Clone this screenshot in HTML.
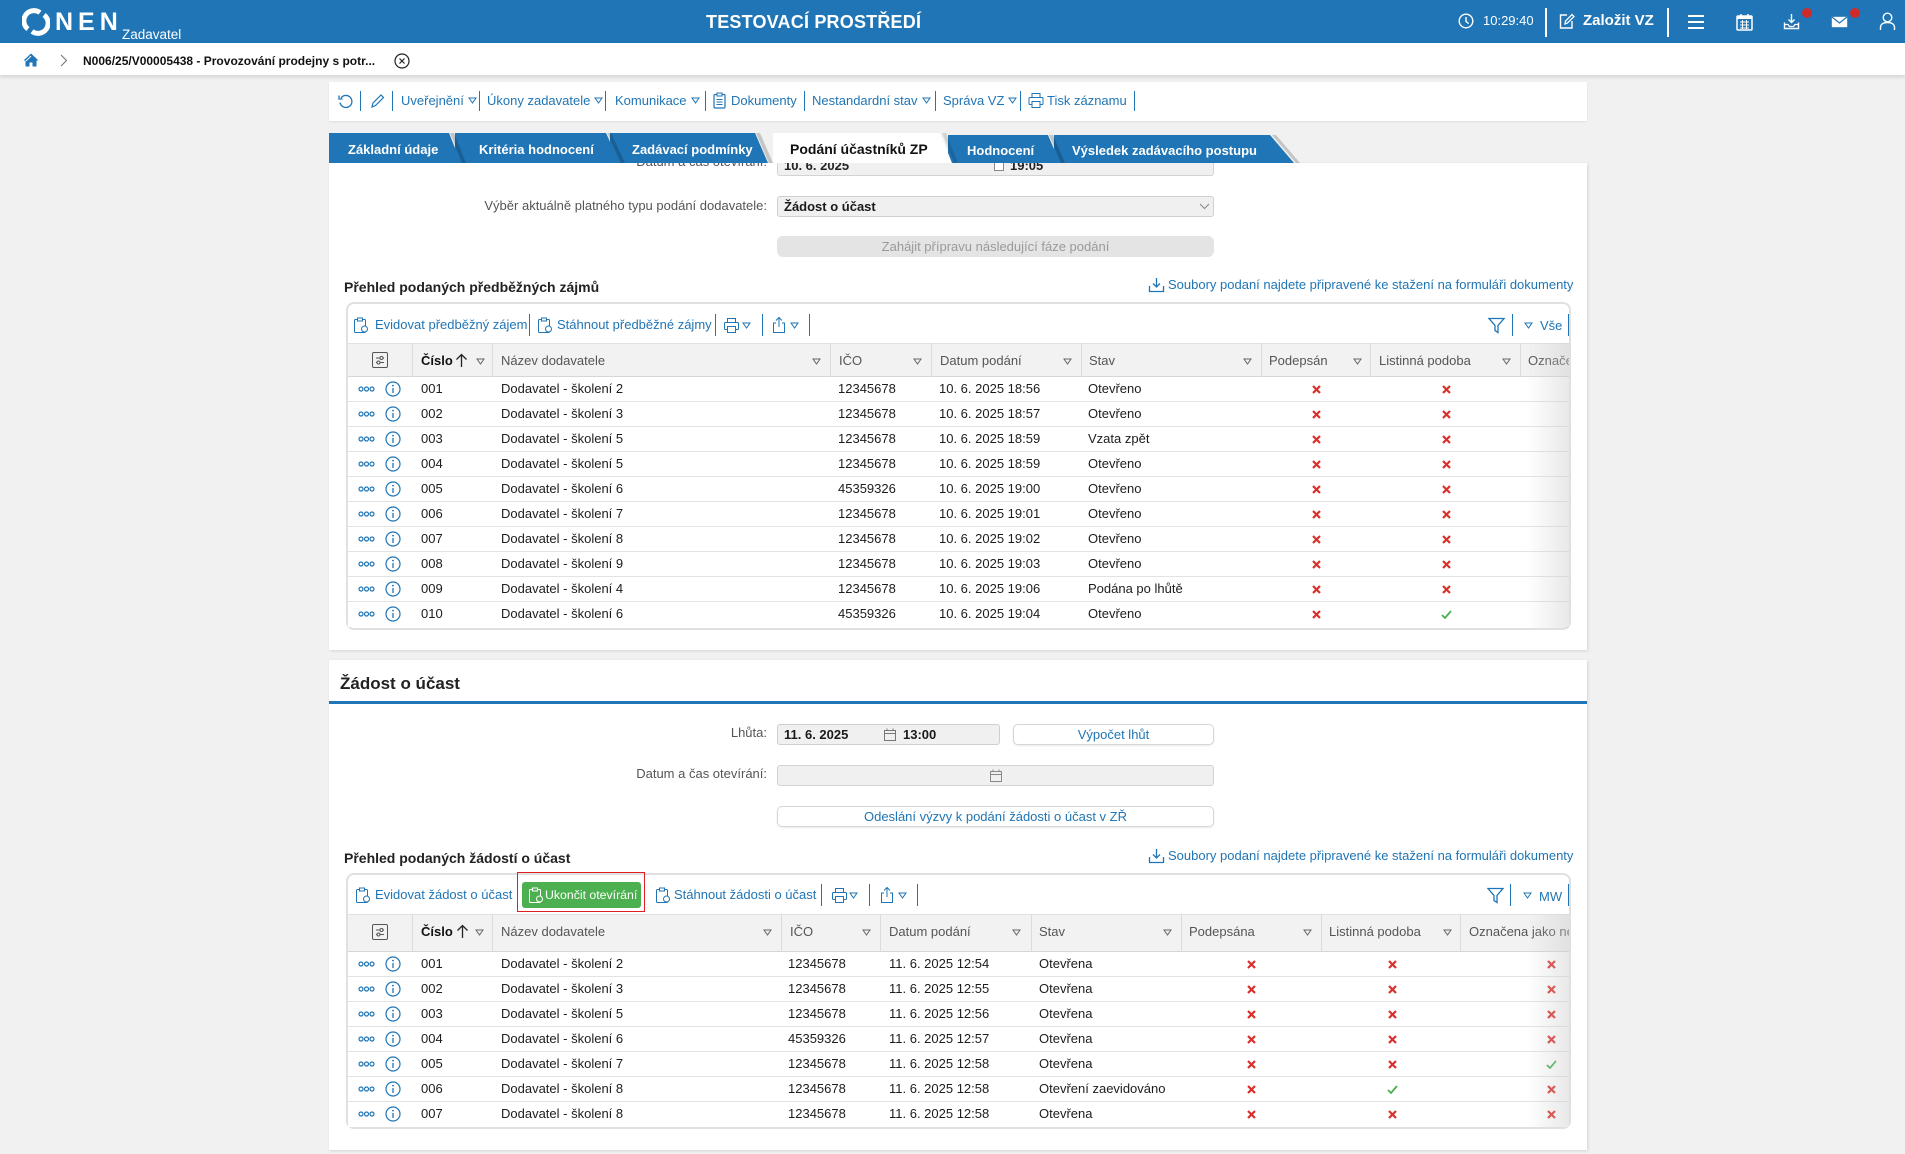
<!DOCTYPE html>
<html><head><meta charset="utf-8">
<style>
*{box-sizing:border-box}
body{margin:0;width:1905px;height:1154px;background:#f1f1f1;position:relative;overflow:hidden;font-family:"Liberation Sans",Arial,sans-serif;font-size:13px;color:#1c1c1c}
.a{position:absolute}
.t{position:absolute;white-space:nowrap;line-height:16px;font-size:13px}
.b{color:#1f75b5}
.g{color:#555}
.sep{position:absolute;width:1px;background:#1f75b5}
.row{position:absolute;left:348px;width:1221px;height:25px;border-bottom:1px solid #e3e3e3;background:#fff}
.row .t{top:4px}
.dt{position:absolute;left:10px;top:9px}
.inf{position:absolute;left:37px;top:4px}
.n{left:73px}.nm{left:153px}
.i1{left:490px}.d1{left:591px}.s1{left:740px}
.i2{left:440px}.d2{left:541px}.s2{left:691px}
.m{position:absolute;top:8px}
.hd{position:absolute;left:348px;width:1221px;background:#f2f2f2;border-top:1px solid #e2e2e2;border-bottom:1px solid #d6d6d6}
.cs{position:absolute;width:1px;background:#dcdcdc}
.tab{position:absolute;top:142px;line-height:16px;font-size:13px;font-weight:bold;color:#fff;white-space:nowrap;z-index:6}
.lbl{position:absolute;text-align:right;color:#555;white-space:nowrap;line-height:16px}
</style></head><body>

<!-- HEADER -->
<div class="a" style="left:0;top:0;width:1905px;height:43px;background:#1f75b5"></div>
<svg class="a" style="left:22px;top:8px" width="28" height="28"><path d="M6 21A10 10 0 0 1 18 4.6" fill="none" stroke="#fff" stroke-width="5"/><path d="M22 7A10 10 0 0 1 10 23.4" fill="none" stroke="#fff" stroke-width="5"/></svg>
<div class="a" style="left:55px;top:10px;font-size:25px;line-height:25px;font-weight:bold;color:#fff;letter-spacing:5px">NEN</div>
<div class="a" style="left:122px;top:27px;font-size:13.5px;line-height:16px;color:#fff">Zadavatel</div>
<div class="a" style="left:706px;top:11px;font-size:18px;line-height:22px;font-weight:bold;color:#fff;letter-spacing:0.2px;white-space:nowrap">TESTOVACÍ PROSTŘEDÍ</div>
<svg class="a" style="left:1458px;top:13px" width="16" height="16"><circle cx="8" cy="8" r="6.8" fill="none" stroke="#fff" stroke-width="1.4"/><path d="M8 4V8.3L10.6 10.6" fill="none" stroke="#fff" stroke-width="1.4"/></svg>
<div class="a" style="left:1483px;top:13px;font-size:13px;line-height:16px;color:#fff">10:29:40</div>
<div class="a" style="left:1545px;top:8px;width:2px;height:29px;background:#fff"></div>
<svg class="a" style="left:1558px;top:12px" width="18" height="18"><path d="M9 3H2.5V16H14V9" fill="none" stroke="#fff" stroke-width="1.4"/><path d="M7 12L7.5 9L14 2.5L16 4.5L9.5 11Z" fill="none" stroke="#fff" stroke-width="1.3"/></svg>
<div class="a" style="left:1583px;top:12px;font-size:15px;line-height:18px;font-weight:bold;color:#fff;white-space:nowrap">Založit VZ</div>
<div class="a" style="left:1667px;top:8px;width:2px;height:29px;background:#fff"></div>
<div class="a" style="left:1688px;top:15px;width:16px;height:2px;background:#fff"></div>
<div class="a" style="left:1688px;top:21px;width:16px;height:2px;background:#fff"></div>
<div class="a" style="left:1688px;top:27px;width:16px;height:2px;background:#fff"></div>
<svg class="a" style="left:1736px;top:13px" width="17" height="18"><rect x="1" y="3" width="15" height="14" rx="1" fill="none" stroke="#fff" stroke-width="1.5"/><rect x="1" y="3" width="15" height="3" fill="#fff"/><path d="M5 1V4M12 1V4" stroke="#fff" stroke-width="1.5"/><path d="M4 9H13M4 12H13M4 15H13M6.5 7V16M10.5 7V16" stroke="#fff" stroke-width="1"/></svg>
<svg class="a" style="left:1783px;top:13px" width="17" height="17"><path d="M8.5 1V9M5.5 6.5L8.5 9.5L11.5 6.5" fill="none" stroke="#fff" stroke-width="1.4"/><path d="M1.5 9.5V15.5H15.5V9.5" fill="none" stroke="#fff" stroke-width="1.4"/><path d="M1.5 11.5H5L6.5 13.5H10.5L12 11.5H15.5" fill="none" stroke="#fff" stroke-width="1.2"/></svg>
<div class="a" style="left:1802px;top:8px;width:10px;height:10px;border-radius:50%;background:#d12a2a"></div>
<svg class="a" style="left:1831px;top:16px" width="17" height="12"><rect x="0.8" y="0.8" width="15.4" height="10.4" fill="#fff"/><path d="M1 1L8.5 7L16 1" fill="none" stroke="#1f75b5" stroke-width="1.2"/></svg>
<div class="a" style="left:1850px;top:8px;width:10px;height:10px;border-radius:50%;background:#d12a2a"></div>
<svg class="a" style="left:1879px;top:12px" width="17" height="19"><circle cx="8.5" cy="5.5" r="4.3" fill="none" stroke="#fff" stroke-width="1.4"/><path d="M1.5 18V15.5C1.5 12.5 4 10.5 8.5 10.5C13 10.5 15.5 12.5 15.5 15.5V18" fill="none" stroke="#fff" stroke-width="1.4"/></svg>

<!-- BREADCRUMB -->
<div class="a" style="left:0;top:43px;width:1905px;height:32px;background:#fff;box-shadow:0 2px 4px rgba(0,0,0,0.13)"></div>
<svg class="a" style="left:23px;top:53px" width="16" height="14"><path d="M8 0.5L0.5 7.5H2.5V13.5H6.5V9.5H9.5V13.5H13.5V7.5H15.5Z" fill="#1f75b5"/><path d="M8 3L3 8" stroke="#fff" stroke-width="1"/></svg>
<svg class="a" style="left:60px;top:54px" width="8" height="13"><path d="M1 1L6.5 6.5L1 12" fill="none" stroke="#777" stroke-width="1.1"/></svg>
<div class="a" style="left:83px;top:53px;font-size:12px;line-height:16px;font-weight:bold;color:#111;white-space:nowrap">N006/25/V00005438 - Provozování prodejny s potr...</div>
<svg class="a" style="left:394px;top:53px" width="16" height="16"><circle cx="8" cy="8" r="7" fill="none" stroke="#222" stroke-width="1.2"/><path d="M5.5 5.5L10.5 10.5M10.5 5.5L5.5 10.5" stroke="#222" stroke-width="1.2"/></svg>

<!-- TOOLBAR -->
<div class="a" style="left:329px;top:82px;width:1258px;height:39px;background:#fff;box-shadow:0 1px 2px rgba(0,0,0,0.08)"></div>
<svg class="a" style="left:338px;top:94px" width="15" height="15"><path d="M3 4A6 6 0 1 1 2 8.5" fill="none" stroke="#1f75b5" stroke-width="1.3"/><path d="M1 1.5V5H4.5" fill="none" stroke="#1f75b5" stroke-width="1.3"/></svg>
<div class="sep" style="left:360px;top:91px;height:20px"></div>
<svg class="a" style="left:370px;top:93px" width="15" height="16"><path d="M2 14L3 10L11 2L13.5 4.5L5.5 12.5Z" fill="none" stroke="#1f75b5" stroke-width="1.2"/></svg>
<div class="sep" style="left:392px;top:91px;height:20px"></div>
<span class="t b" style="left:401px;top:93px">Uveřejnění<svg width="9" height="7" style="margin-left:4px;vertical-align:1px"><path d="M1 1H8L4.5 6Z" fill="none" stroke="#1f75b5"/></svg></span>
<div class="sep" style="left:479px;top:91px;height:20px"></div>
<span class="t b" style="left:487px;top:93px">Úkony zadavatele<svg width="9" height="7" style="margin-left:4px;vertical-align:1px"><path d="M1 1H8L4.5 6Z" fill="none" stroke="#1f75b5"/></svg></span>
<div class="sep" style="left:605px;top:91px;height:20px"></div>
<span class="t b" style="left:615px;top:93px">Komunikace<svg width="9" height="7" style="margin-left:4px;vertical-align:1px"><path d="M1 1H8L4.5 6Z" fill="none" stroke="#1f75b5"/></svg></span>
<div class="sep" style="left:705px;top:91px;height:20px"></div>
<svg class="a" style="left:713px;top:92px" width="13" height="17"><rect x="1" y="2.5" width="11" height="13.5" rx="1" fill="none" stroke="#1f75b5" stroke-width="1.2"/><rect x="4" y="1" width="5" height="3" fill="#fff" stroke="#1f75b5"/><path d="M3.5 7.5H9.5M3.5 10H9.5M3.5 12.5H9.5" stroke="#1f75b5"/></svg>
<span class="t b" style="left:731px;top:93px">Dokumenty</span>
<div class="sep" style="left:804px;top:91px;height:20px"></div>
<span class="t b" style="left:812px;top:93px">Nestandardní stav<svg width="9" height="7" style="margin-left:4px;vertical-align:1px"><path d="M1 1H8L4.5 6Z" fill="none" stroke="#1f75b5"/></svg></span>
<div class="sep" style="left:935px;top:91px;height:20px"></div>
<span class="t b" style="left:943px;top:93px">Správa VZ<svg width="9" height="7" style="margin-left:4px;vertical-align:1px"><path d="M1 1H8L4.5 6Z" fill="none" stroke="#1f75b5"/></svg></span>
<div class="sep" style="left:1020px;top:91px;height:20px"></div>
<svg class="a" style="left:1028px;top:92px" width="16" height="17"><rect x="4" y="1.5" width="8" height="4" fill="none" stroke="#1f75b5"/><rect x="1" y="5.5" width="14" height="7" rx="1" fill="none" stroke="#1f75b5"/><rect x="4" y="9.5" width="8" height="6" fill="#fff" stroke="#1f75b5"/></svg>
<span class="t b" style="left:1047px;top:93px">Tisk záznamu</span>
<div class="sep" style="left:1134px;top:91px;height:20px"></div>

<!-- TABS -->
<svg class="a" style="left:0;top:133px;z-index:5" width="1320" height="30">
<polygon points="1272,2 1276,2 1300,30 1296,30" fill="rgba(0,0,0,0.18)"/>
<polygon points="1054,2 1270,2 1294,30 1054,30" fill="#1f75b5"/>
<polygon points="1049,2 1053,2 1065,30 1061,30" fill="rgba(0,0,0,0.18)"/>
<polygon points="948,2 1048,2 1060,30 948,30" fill="#1f75b5"/>
<polygon points="942,0 946,0 958,30 954,30" fill="rgba(0,0,0,0.12)"/>
<polygon points="773,0 940,0 952,30 773,30" fill="#ffffff"/>
<polygon points="756,0 760,0 773,30 769,30" fill="rgba(0,0,0,0.18)"/>
<polygon points="610,0 755,0 768,30 610,30" fill="#1f75b5"/>
<polygon points="607,0 611,0 625,30 621,30" fill="rgba(0,0,0,0.18)"/>
<polygon points="455,0 606,0 620,30 455,30" fill="#1f75b5"/>
<polygon points="450,0 454,0 466,30 462,30" fill="rgba(0,0,0,0.18)"/>
<polygon points="329,0 449,0 461,30 329,30" fill="#1f75b5"/>
</svg>
<div class="tab" style="left:348px">Základní údaje</div>
<div class="tab" style="left:479px">Kritéria hodnocení</div>
<div class="tab" style="left:632px">Zadávací podmínky</div>
<div class="tab" style="left:790px;top:141px;font-size:14px;line-height:17px;color:#111">Podání účastníků ZP</div>
<div class="tab" style="left:967px;top:143px">Hodnocení</div>
<div class="tab" style="left:1072px;top:143px">Výsledek zadávacího postupu</div>

<!-- PANEL 1 -->
<div class="a" style="left:329px;top:163px;width:1258px;height:487px;background:#fff;overflow:hidden;box-shadow:1px 1px 3px rgba(0,0,0,0.12)">
<div class="a" style="left:-329px;top:-163px;width:1905px;height:1154px">
<div class="lbl" style="left:500px;width:267px;top:154px">Datum a čas otevírání:</div>
<div class="a" style="left:777px;top:155px;width:437px;height:21px;background:#f0f0f0;border:1px solid #d3d3d3;border-radius:3px"></div>
<span class="t" style="left:784px;top:158px;font-weight:bold;color:#222">10. 6. 2025</span>
<div class="a" style="left:994px;top:160px;width:10px;height:11px;border:1px solid #888;background:#fff"></div>
<span class="t" style="left:1010px;top:158px;font-weight:bold;color:#222">19:05</span>

<div class="lbl" style="left:400px;width:367px;top:198px">Výběr aktuálně platného typu podání dodavatele:</div>
<div class="a" style="left:777px;top:196px;width:437px;height:21px;background:#f0f0f0;border:1px solid #d0d0d0;border-radius:3px"></div>
<span class="t" style="left:784px;top:199px;font-weight:bold;color:#1a1a1a">Žádost o účast</span>
<svg class="a" style="left:1199px;top:203px" width="11" height="7"><path d="M1 1L5.5 5.5L10 1" fill="none" stroke="#888" stroke-width="1"/></svg>

<div class="a" style="left:777px;top:236px;width:437px;height:21px;background:#e4e4e4;border-radius:6px;text-align:center;line-height:21px;color:#9a9a9a;font-size:13px">Zahájit přípravu následující fáze podání</div>

<div class="a" style="left:344px;top:278px;font-size:14px;line-height:18px;font-weight:bold;color:#222;white-space:nowrap">Přehled podaných předběžných zájmů</div>
<svg class="a" style="left:1148px;top:277px" width="17" height="16"><path d="M8.5 1V9.5M5 6.5L8.5 10L12 6.5" fill="none" stroke="#1f75b5" stroke-width="1.3"/><path d="M1.5 9V14.5H15.5V9" fill="none" stroke="#1f75b5" stroke-width="1.3"/></svg>
<span class="t b" style="left:1168px;top:277px">Soubory podaní najdete připravené ke stažení na formuláři dokumenty</span>

<!-- GRID 1 -->
<div class="a" style="left:346px;top:302px;width:1225px;height:328px;border:2px solid #e0e0e0;border-radius:8px;background:#fff"></div>
<svg class="a" style="left:353px;top:317px" width="16" height="17"><rect x="1.5" y="2.5" width="11" height="13" rx="1" fill="none" stroke="#1f75b5"/><rect x="4.5" y="1" width="5" height="3" fill="#fff" stroke="#1f75b5"/><circle cx="11.5" cy="12" r="3" fill="#fff" stroke="#1f75b5"/></svg>
<span class="t b" style="left:375px;top:317px">Evidovat předběžný zájem</span>
<div class="sep" style="left:529px;top:314px;height:22px"></div>
<svg class="a" style="left:537px;top:317px" width="16" height="17"><rect x="1.5" y="2.5" width="11" height="13" rx="1" fill="none" stroke="#1f75b5"/><rect x="4.5" y="1" width="5" height="3" fill="#fff" stroke="#1f75b5"/><circle cx="11.5" cy="12" r="3" fill="#fff" stroke="#1f75b5"/></svg>
<span class="t b" style="left:557px;top:317px">Stáhnout předběžné zájmy</span>
<div class="sep" style="left:715px;top:314px;height:22px"></div>
<svg class="a" style="left:723px;top:317px" width="17" height="17"><rect x="4.5" y="1.5" width="8" height="4" fill="none" stroke="#1f75b5"/><rect x="1.5" y="5.5" width="14" height="7" rx="1" fill="none" stroke="#1f75b5"/><rect x="4.5" y="9.5" width="8" height="6" fill="#fff" stroke="#1f75b5"/></svg>
<svg class="a" style="left:742px;top:322px" width="9" height="7"><path d="M1 1H8L4.5 6Z" fill="none" stroke="#1f75b5"/></svg>
<div class="sep" style="left:762px;top:314px;height:22px"></div>
<svg class="a" style="left:771px;top:316px" width="16" height="18"><path d="M5 7H2.5V16.5H13.5V7H11" fill="none" stroke="#1f75b5"/><path d="M8 11V1.5M5 4.5L8 1.5L11 4.5" fill="none" stroke="#1f75b5"/></svg>
<svg class="a" style="left:790px;top:322px" width="9" height="7"><path d="M1 1H8L4.5 6Z" fill="none" stroke="#1f75b5"/></svg>
<div class="sep" style="left:809px;top:314px;height:22px"></div>
<svg class="a" style="left:1488px;top:317px" width="17" height="17"><path d="M1 1.5H16L10 8.5V15.5L7 13.5V8.5Z" fill="none" stroke="#1f75b5" stroke-width="1.3"/></svg>
<div class="sep" style="left:1512px;top:314px;height:22px"></div>
<svg class="a" style="left:1524px;top:322px" width="9" height="7"><path d="M1 1H8L4.5 6Z" fill="none" stroke="#1f75b5"/></svg>
<span class="t b" style="left:1540px;top:318px">Vše</span>
<div class="sep" style="left:1568px;top:314px;height:22px"></div>

<div class="hd" style="top:343px;height:34px"></div>
<div class="cs" style="left:412px;top:343px;height:34px"></div>
<div class="cs" style="left:492px;top:343px;height:34px"></div>
<div class="cs" style="left:830px;top:343px;height:34px"></div>
<div class="cs" style="left:931px;top:343px;height:34px"></div>
<div class="cs" style="left:1081px;top:343px;height:34px"></div>
<div class="cs" style="left:1261px;top:343px;height:34px"></div>
<div class="cs" style="left:1370px;top:343px;height:34px"></div>
<div class="cs" style="left:1520px;top:343px;height:34px"></div>
<svg class="a" style="left:372px;top:352px" width="16" height="16"><rect x="0.5" y="0.5" width="15" height="15" rx="1.5" fill="none" stroke="#555"/><line x1="4" y1="6" x2="12" y2="6" stroke="#555"/><circle cx="9.5" cy="6" r="1.5" fill="#fff" stroke="#555"/><line x1="4" y1="10.5" x2="12" y2="10.5" stroke="#555"/><circle cx="6.5" cy="10.5" r="1.5" fill="#fff" stroke="#555"/></svg>
<span class="t" style="left:421px;top:353px;font-weight:bold;color:#111">Číslo</span>
<svg class="a" style="left:455px;top:353px" width="13" height="15"><path d="M6.5 14V1.5M1.5 6.5L6.5 1.5L11.5 6.5" fill="none" stroke="#222" stroke-width="1.3"/></svg>
<svg class="a" style="left:476px;top:358px" width="9" height="7"><path d="M1 1H8L4.5 6Z" fill="none" stroke="#666"/></svg>
<span class="t g" style="left:501px;top:353px">Název dodavatele</span>
<svg class="a" style="left:812px;top:358px" width="9" height="7"><path d="M1 1H8L4.5 6Z" fill="none" stroke="#666"/></svg>
<span class="t g" style="left:839px;top:353px">IČO</span>
<svg class="a" style="left:913px;top:358px" width="9" height="7"><path d="M1 1H8L4.5 6Z" fill="none" stroke="#666"/></svg>
<span class="t g" style="left:940px;top:353px">Datum podání</span>
<svg class="a" style="left:1063px;top:358px" width="9" height="7"><path d="M1 1H8L4.5 6Z" fill="none" stroke="#666"/></svg>
<span class="t g" style="left:1089px;top:353px">Stav</span>
<svg class="a" style="left:1243px;top:358px" width="9" height="7"><path d="M1 1H8L4.5 6Z" fill="none" stroke="#666"/></svg>
<span class="t g" style="left:1269px;top:353px">Podepsán</span>
<svg class="a" style="left:1353px;top:358px" width="9" height="7"><path d="M1 1H8L4.5 6Z" fill="none" stroke="#666"/></svg>
<span class="t g" style="left:1379px;top:353px">Listinná podoba</span>
<svg class="a" style="left:1502px;top:358px" width="9" height="7"><path d="M1 1H8L4.5 6Z" fill="none" stroke="#666"/></svg>
<div class="a" style="left:1528px;top:353px;width:41px;overflow:hidden;white-space:nowrap;line-height:16px;color:#555">Označena jako ne</div>

<div class="row" style="top:377px"><svg class="dt" width="17" height="6"><circle cx="3" cy="3" r="2" fill="none" stroke="#1f75b5" stroke-width="1.2"/><circle cx="8.5" cy="3" r="2" fill="none" stroke="#1f75b5" stroke-width="1.2"/><circle cx="14" cy="3" r="2" fill="none" stroke="#1f75b5" stroke-width="1.2"/></svg><svg class="inf" width="16" height="16"><circle cx="8" cy="8" r="7" fill="none" stroke="#1f75b5" stroke-width="1.2"/><path d="M8 7V12" stroke="#1f75b5" stroke-width="1.3"/><circle cx="8" cy="4.6" r="0.9" fill="#1f75b5"/></svg><span class="t n">001</span><span class="t nm">Dodavatel - školení 2</span><span class="t i1">12345678</span><span class="t d1">10. 6. 2025 18:56</span><span class="t s1">Otevřeno</span><svg class="m" style="left:964px" width="9" height="9"><path d="M1 1L8 8M8 1L1 8" stroke="#d9302c" stroke-width="2.2"/></svg><svg class="m" style="left:1094px" width="9" height="9"><path d="M1 1L8 8M8 1L1 8" stroke="#d9302c" stroke-width="2.2"/></svg></div>
<div class="row" style="top:402px"><svg class="dt" width="17" height="6"><circle cx="3" cy="3" r="2" fill="none" stroke="#1f75b5" stroke-width="1.2"/><circle cx="8.5" cy="3" r="2" fill="none" stroke="#1f75b5" stroke-width="1.2"/><circle cx="14" cy="3" r="2" fill="none" stroke="#1f75b5" stroke-width="1.2"/></svg><svg class="inf" width="16" height="16"><circle cx="8" cy="8" r="7" fill="none" stroke="#1f75b5" stroke-width="1.2"/><path d="M8 7V12" stroke="#1f75b5" stroke-width="1.3"/><circle cx="8" cy="4.6" r="0.9" fill="#1f75b5"/></svg><span class="t n">002</span><span class="t nm">Dodavatel - školení 3</span><span class="t i1">12345678</span><span class="t d1">10. 6. 2025 18:57</span><span class="t s1">Otevřeno</span><svg class="m" style="left:964px" width="9" height="9"><path d="M1 1L8 8M8 1L1 8" stroke="#d9302c" stroke-width="2.2"/></svg><svg class="m" style="left:1094px" width="9" height="9"><path d="M1 1L8 8M8 1L1 8" stroke="#d9302c" stroke-width="2.2"/></svg></div>
<div class="row" style="top:427px"><svg class="dt" width="17" height="6"><circle cx="3" cy="3" r="2" fill="none" stroke="#1f75b5" stroke-width="1.2"/><circle cx="8.5" cy="3" r="2" fill="none" stroke="#1f75b5" stroke-width="1.2"/><circle cx="14" cy="3" r="2" fill="none" stroke="#1f75b5" stroke-width="1.2"/></svg><svg class="inf" width="16" height="16"><circle cx="8" cy="8" r="7" fill="none" stroke="#1f75b5" stroke-width="1.2"/><path d="M8 7V12" stroke="#1f75b5" stroke-width="1.3"/><circle cx="8" cy="4.6" r="0.9" fill="#1f75b5"/></svg><span class="t n">003</span><span class="t nm">Dodavatel - školení 5</span><span class="t i1">12345678</span><span class="t d1">10. 6. 2025 18:59</span><span class="t s1">Vzata zpět</span><svg class="m" style="left:964px" width="9" height="9"><path d="M1 1L8 8M8 1L1 8" stroke="#d9302c" stroke-width="2.2"/></svg><svg class="m" style="left:1094px" width="9" height="9"><path d="M1 1L8 8M8 1L1 8" stroke="#d9302c" stroke-width="2.2"/></svg></div>
<div class="row" style="top:452px"><svg class="dt" width="17" height="6"><circle cx="3" cy="3" r="2" fill="none" stroke="#1f75b5" stroke-width="1.2"/><circle cx="8.5" cy="3" r="2" fill="none" stroke="#1f75b5" stroke-width="1.2"/><circle cx="14" cy="3" r="2" fill="none" stroke="#1f75b5" stroke-width="1.2"/></svg><svg class="inf" width="16" height="16"><circle cx="8" cy="8" r="7" fill="none" stroke="#1f75b5" stroke-width="1.2"/><path d="M8 7V12" stroke="#1f75b5" stroke-width="1.3"/><circle cx="8" cy="4.6" r="0.9" fill="#1f75b5"/></svg><span class="t n">004</span><span class="t nm">Dodavatel - školení 5</span><span class="t i1">12345678</span><span class="t d1">10. 6. 2025 18:59</span><span class="t s1">Otevřeno</span><svg class="m" style="left:964px" width="9" height="9"><path d="M1 1L8 8M8 1L1 8" stroke="#d9302c" stroke-width="2.2"/></svg><svg class="m" style="left:1094px" width="9" height="9"><path d="M1 1L8 8M8 1L1 8" stroke="#d9302c" stroke-width="2.2"/></svg></div>
<div class="row" style="top:477px"><svg class="dt" width="17" height="6"><circle cx="3" cy="3" r="2" fill="none" stroke="#1f75b5" stroke-width="1.2"/><circle cx="8.5" cy="3" r="2" fill="none" stroke="#1f75b5" stroke-width="1.2"/><circle cx="14" cy="3" r="2" fill="none" stroke="#1f75b5" stroke-width="1.2"/></svg><svg class="inf" width="16" height="16"><circle cx="8" cy="8" r="7" fill="none" stroke="#1f75b5" stroke-width="1.2"/><path d="M8 7V12" stroke="#1f75b5" stroke-width="1.3"/><circle cx="8" cy="4.6" r="0.9" fill="#1f75b5"/></svg><span class="t n">005</span><span class="t nm">Dodavatel - školení 6</span><span class="t i1">45359326</span><span class="t d1">10. 6. 2025 19:00</span><span class="t s1">Otevřeno</span><svg class="m" style="left:964px" width="9" height="9"><path d="M1 1L8 8M8 1L1 8" stroke="#d9302c" stroke-width="2.2"/></svg><svg class="m" style="left:1094px" width="9" height="9"><path d="M1 1L8 8M8 1L1 8" stroke="#d9302c" stroke-width="2.2"/></svg></div>
<div class="row" style="top:502px"><svg class="dt" width="17" height="6"><circle cx="3" cy="3" r="2" fill="none" stroke="#1f75b5" stroke-width="1.2"/><circle cx="8.5" cy="3" r="2" fill="none" stroke="#1f75b5" stroke-width="1.2"/><circle cx="14" cy="3" r="2" fill="none" stroke="#1f75b5" stroke-width="1.2"/></svg><svg class="inf" width="16" height="16"><circle cx="8" cy="8" r="7" fill="none" stroke="#1f75b5" stroke-width="1.2"/><path d="M8 7V12" stroke="#1f75b5" stroke-width="1.3"/><circle cx="8" cy="4.6" r="0.9" fill="#1f75b5"/></svg><span class="t n">006</span><span class="t nm">Dodavatel - školení 7</span><span class="t i1">12345678</span><span class="t d1">10. 6. 2025 19:01</span><span class="t s1">Otevřeno</span><svg class="m" style="left:964px" width="9" height="9"><path d="M1 1L8 8M8 1L1 8" stroke="#d9302c" stroke-width="2.2"/></svg><svg class="m" style="left:1094px" width="9" height="9"><path d="M1 1L8 8M8 1L1 8" stroke="#d9302c" stroke-width="2.2"/></svg></div>
<div class="row" style="top:527px"><svg class="dt" width="17" height="6"><circle cx="3" cy="3" r="2" fill="none" stroke="#1f75b5" stroke-width="1.2"/><circle cx="8.5" cy="3" r="2" fill="none" stroke="#1f75b5" stroke-width="1.2"/><circle cx="14" cy="3" r="2" fill="none" stroke="#1f75b5" stroke-width="1.2"/></svg><svg class="inf" width="16" height="16"><circle cx="8" cy="8" r="7" fill="none" stroke="#1f75b5" stroke-width="1.2"/><path d="M8 7V12" stroke="#1f75b5" stroke-width="1.3"/><circle cx="8" cy="4.6" r="0.9" fill="#1f75b5"/></svg><span class="t n">007</span><span class="t nm">Dodavatel - školení 8</span><span class="t i1">12345678</span><span class="t d1">10. 6. 2025 19:02</span><span class="t s1">Otevřeno</span><svg class="m" style="left:964px" width="9" height="9"><path d="M1 1L8 8M8 1L1 8" stroke="#d9302c" stroke-width="2.2"/></svg><svg class="m" style="left:1094px" width="9" height="9"><path d="M1 1L8 8M8 1L1 8" stroke="#d9302c" stroke-width="2.2"/></svg></div>
<div class="row" style="top:552px"><svg class="dt" width="17" height="6"><circle cx="3" cy="3" r="2" fill="none" stroke="#1f75b5" stroke-width="1.2"/><circle cx="8.5" cy="3" r="2" fill="none" stroke="#1f75b5" stroke-width="1.2"/><circle cx="14" cy="3" r="2" fill="none" stroke="#1f75b5" stroke-width="1.2"/></svg><svg class="inf" width="16" height="16"><circle cx="8" cy="8" r="7" fill="none" stroke="#1f75b5" stroke-width="1.2"/><path d="M8 7V12" stroke="#1f75b5" stroke-width="1.3"/><circle cx="8" cy="4.6" r="0.9" fill="#1f75b5"/></svg><span class="t n">008</span><span class="t nm">Dodavatel - školení 9</span><span class="t i1">12345678</span><span class="t d1">10. 6. 2025 19:03</span><span class="t s1">Otevřeno</span><svg class="m" style="left:964px" width="9" height="9"><path d="M1 1L8 8M8 1L1 8" stroke="#d9302c" stroke-width="2.2"/></svg><svg class="m" style="left:1094px" width="9" height="9"><path d="M1 1L8 8M8 1L1 8" stroke="#d9302c" stroke-width="2.2"/></svg></div>
<div class="row" style="top:577px"><svg class="dt" width="17" height="6"><circle cx="3" cy="3" r="2" fill="none" stroke="#1f75b5" stroke-width="1.2"/><circle cx="8.5" cy="3" r="2" fill="none" stroke="#1f75b5" stroke-width="1.2"/><circle cx="14" cy="3" r="2" fill="none" stroke="#1f75b5" stroke-width="1.2"/></svg><svg class="inf" width="16" height="16"><circle cx="8" cy="8" r="7" fill="none" stroke="#1f75b5" stroke-width="1.2"/><path d="M8 7V12" stroke="#1f75b5" stroke-width="1.3"/><circle cx="8" cy="4.6" r="0.9" fill="#1f75b5"/></svg><span class="t n">009</span><span class="t nm">Dodavatel - školení 4</span><span class="t i1">12345678</span><span class="t d1">10. 6. 2025 19:06</span><span class="t s1">Podána po lhůtě</span><svg class="m" style="left:964px" width="9" height="9"><path d="M1 1L8 8M8 1L1 8" stroke="#d9302c" stroke-width="2.2"/></svg><svg class="m" style="left:1094px" width="9" height="9"><path d="M1 1L8 8M8 1L1 8" stroke="#d9302c" stroke-width="2.2"/></svg></div>
<div class="row" style="top:602px;border-bottom:none"><svg class="dt" width="17" height="6"><circle cx="3" cy="3" r="2" fill="none" stroke="#1f75b5" stroke-width="1.2"/><circle cx="8.5" cy="3" r="2" fill="none" stroke="#1f75b5" stroke-width="1.2"/><circle cx="14" cy="3" r="2" fill="none" stroke="#1f75b5" stroke-width="1.2"/></svg><svg class="inf" width="16" height="16"><circle cx="8" cy="8" r="7" fill="none" stroke="#1f75b5" stroke-width="1.2"/><path d="M8 7V12" stroke="#1f75b5" stroke-width="1.3"/><circle cx="8" cy="4.6" r="0.9" fill="#1f75b5"/></svg><span class="t n">010</span><span class="t nm">Dodavatel - školení 6</span><span class="t i1">45359326</span><span class="t d1">10. 6. 2025 19:04</span><span class="t s1">Otevřeno</span><svg class="m" style="left:964px" width="9" height="9"><path d="M1 1L8 8M8 1L1 8" stroke="#d9302c" stroke-width="2.2"/></svg><svg class="m" style="left:1093px" width="11" height="9"><path d="M1 5L4 8L10 1" fill="none" stroke="#4caf50" stroke-width="1.8"/></svg></div>
<div class="a" style="left:1527px;top:343px;width:42px;height:285px;background:linear-gradient(to right,rgba(255,255,255,0),rgba(205,205,205,0.45))"></div>
</div></div>

<!-- PANEL 2 -->
<div class="a" style="left:329px;top:660px;width:1258px;height:490px;background:#fff;overflow:hidden;box-shadow:1px 1px 3px rgba(0,0,0,0.12)">
<div class="a" style="left:-329px;top:-660px;width:1905px;height:1154px">
<div class="a" style="left:340px;top:673px;font-size:17px;line-height:22px;font-weight:bold;color:#222;white-space:nowrap">Žádost o účast</div>
<div class="a" style="left:329px;top:701px;width:1258px;height:3px;background:#1f75b5"></div>

<div class="lbl" style="left:600px;width:167px;top:725px">Lhůta:</div>
<div class="a" style="left:777px;top:724px;width:223px;height:21px;background:#f0f0f0;border:1px solid #cfcfcf;border-radius:3px"></div>
<span class="t" style="left:784px;top:727px;font-weight:bold;color:#1a1a1a">11. 6. 2025</span>
<svg class="a" style="left:884px;top:728px" width="12" height="13"><rect x="0.5" y="2.5" width="11" height="10" fill="none" stroke="#777"/><path d="M0.5 5.5H11.5M3 0.5V3M9 0.5V3" stroke="#777"/></svg>
<span class="t" style="left:903px;top:727px;font-weight:bold;color:#1a1a1a">13:00</span>
<div class="a" style="left:1013px;top:724px;width:201px;height:21px;background:#fff;border:1px solid #d6d6d6;border-radius:5px;box-shadow:0 1px 2px rgba(0,0,0,0.08);text-align:center;line-height:19px;color:#1f75b5">Výpočet lhůt</div>

<div class="lbl" style="left:560px;width:207px;top:766px">Datum a čas otevírání:</div>
<div class="a" style="left:777px;top:765px;width:437px;height:21px;background:#f0f0f0;border:1px solid #d3d3d3;border-radius:3px"></div>
<svg class="a" style="left:990px;top:769px" width="12" height="13"><rect x="0.5" y="2.5" width="11" height="10" fill="none" stroke="#888"/><path d="M0.5 5.5H11.5M3 0.5V3M9 0.5V3" stroke="#888"/></svg>

<div class="a" style="left:777px;top:806px;width:437px;height:21px;background:#fff;border:1px solid #d6d6d6;border-radius:5px;box-shadow:0 1px 2px rgba(0,0,0,0.08);text-align:center;line-height:19px;color:#1f75b5;white-space:nowrap">Odeslání výzvy k podání žádosti o účast v ZŘ</div>

<div class="a" style="left:344px;top:849px;font-size:14px;line-height:18px;font-weight:bold;color:#222;white-space:nowrap">Přehled podaných žádostí o účast</div>
<svg class="a" style="left:1148px;top:848px" width="17" height="16"><path d="M8.5 1V9.5M5 6.5L8.5 10L12 6.5" fill="none" stroke="#1f75b5" stroke-width="1.3"/><path d="M1.5 9V14.5H15.5V9" fill="none" stroke="#1f75b5" stroke-width="1.3"/></svg>
<span class="t b" style="left:1168px;top:848px">Soubory podaní najdete připravené ke stažení na formuláři dokumenty</span>

<!-- GRID 2 -->
<div class="a" style="left:346px;top:873px;width:1225px;height:256px;border:2px solid #e0e0e0;border-radius:8px;background:#fff"></div>
<svg class="a" style="left:355px;top:887px" width="16" height="17"><rect x="1.5" y="2.5" width="11" height="13" rx="1" fill="none" stroke="#1f75b5"/><rect x="4.5" y="1" width="5" height="3" fill="#fff" stroke="#1f75b5"/><circle cx="11.5" cy="12" r="3" fill="#fff" stroke="#1f75b5"/></svg>
<span class="t b" style="left:375px;top:887px">Evidovat žádost o účast</span>
<div class="a" style="left:517px;top:872px;width:128px;height:40px;border:1px solid #e02020"></div>
<div class="a" style="left:522px;top:882px;width:119px;height:26px;background:#4caf50;border-radius:3px"></div>
<svg class="a" style="left:528px;top:887px" width="16" height="17"><rect x="1.5" y="2.5" width="11" height="13" rx="1" fill="none" stroke="#fff"/><rect x="4.5" y="1" width="5" height="3" fill="#4caf50" stroke="#fff"/><circle cx="11.5" cy="12" r="3" fill="#4caf50" stroke="#fff"/></svg>
<span class="t" style="left:545px;top:887px;color:#fff;font-size:12.3px">Ukončit otevírání</span>
<svg class="a" style="left:655px;top:887px" width="16" height="17"><rect x="1.5" y="2.5" width="11" height="13" rx="1" fill="none" stroke="#1f75b5"/><rect x="4.5" y="1" width="5" height="3" fill="#fff" stroke="#1f75b5"/><circle cx="11.5" cy="12" r="3" fill="#fff" stroke="#1f75b5"/></svg>
<span class="t b" style="left:674px;top:887px">Stáhnout žádosti o účast</span>
<div class="sep" style="left:821px;top:884px;height:22px"></div>
<svg class="a" style="left:831px;top:887px" width="17" height="17"><rect x="4.5" y="1.5" width="8" height="4" fill="none" stroke="#1f75b5"/><rect x="1.5" y="5.5" width="14" height="7" rx="1" fill="none" stroke="#1f75b5"/><rect x="4.5" y="9.5" width="8" height="6" fill="#fff" stroke="#1f75b5"/></svg>
<svg class="a" style="left:849px;top:892px" width="9" height="7"><path d="M1 1H8L4.5 6Z" fill="none" stroke="#1f75b5"/></svg>
<div class="sep" style="left:869px;top:884px;height:22px"></div>
<svg class="a" style="left:879px;top:886px" width="16" height="18"><path d="M5 7H2.5V16.5H13.5V7H11" fill="none" stroke="#1f75b5"/><path d="M8 11V1.5M5 4.5L8 1.5L11 4.5" fill="none" stroke="#1f75b5"/></svg>
<svg class="a" style="left:898px;top:892px" width="9" height="7"><path d="M1 1H8L4.5 6Z" fill="none" stroke="#1f75b5"/></svg>
<div class="sep" style="left:917px;top:884px;height:22px"></div>
<svg class="a" style="left:1487px;top:887px" width="17" height="17"><path d="M1 1.5H16L10 8.5V15.5L7 13.5V8.5Z" fill="none" stroke="#1f75b5" stroke-width="1.3"/></svg>
<div class="sep" style="left:1510px;top:884px;height:22px"></div>
<svg class="a" style="left:1523px;top:892px" width="9" height="7"><path d="M1 1H8L4.5 6Z" fill="none" stroke="#1f75b5"/></svg>
<span class="t b" style="left:1539px;top:889px">MW</span>
<div class="sep" style="left:1568px;top:884px;height:22px"></div>

<div class="hd" style="top:914px;height:38px"></div>
<div class="cs" style="left:412px;top:914px;height:38px"></div>
<div class="cs" style="left:492px;top:914px;height:38px"></div>
<div class="cs" style="left:781px;top:914px;height:38px"></div>
<div class="cs" style="left:880px;top:914px;height:38px"></div>
<div class="cs" style="left:1031px;top:914px;height:38px"></div>
<div class="cs" style="left:1181px;top:914px;height:38px"></div>
<div class="cs" style="left:1321px;top:914px;height:38px"></div>
<div class="cs" style="left:1460px;top:914px;height:38px"></div>
<svg class="a" style="left:372px;top:924px" width="16" height="16"><rect x="0.5" y="0.5" width="15" height="15" rx="1.5" fill="none" stroke="#555"/><line x1="4" y1="6" x2="12" y2="6" stroke="#555"/><circle cx="9.5" cy="6" r="1.5" fill="#fff" stroke="#555"/><line x1="4" y1="10.5" x2="12" y2="10.5" stroke="#555"/><circle cx="6.5" cy="10.5" r="1.5" fill="#fff" stroke="#555"/></svg>
<span class="t" style="left:421px;top:924px;font-weight:bold;color:#111">Číslo</span>
<svg class="a" style="left:456px;top:924px" width="13" height="15"><path d="M6.5 14V1.5M1.5 6.5L6.5 1.5L11.5 6.5" fill="none" stroke="#222" stroke-width="1.3"/></svg>
<svg class="a" style="left:475px;top:929px" width="9" height="7"><path d="M1 1H8L4.5 6Z" fill="none" stroke="#666"/></svg>
<span class="t g" style="left:501px;top:924px">Název dodavatele</span>
<svg class="a" style="left:763px;top:929px" width="9" height="7"><path d="M1 1H8L4.5 6Z" fill="none" stroke="#666"/></svg>
<span class="t g" style="left:790px;top:924px">IČO</span>
<svg class="a" style="left:862px;top:929px" width="9" height="7"><path d="M1 1H8L4.5 6Z" fill="none" stroke="#666"/></svg>
<span class="t g" style="left:889px;top:924px">Datum podání</span>
<svg class="a" style="left:1012px;top:929px" width="9" height="7"><path d="M1 1H8L4.5 6Z" fill="none" stroke="#666"/></svg>
<span class="t g" style="left:1039px;top:924px">Stav</span>
<svg class="a" style="left:1163px;top:929px" width="9" height="7"><path d="M1 1H8L4.5 6Z" fill="none" stroke="#666"/></svg>
<span class="t g" style="left:1189px;top:924px">Podepsána</span>
<svg class="a" style="left:1303px;top:929px" width="9" height="7"><path d="M1 1H8L4.5 6Z" fill="none" stroke="#666"/></svg>
<span class="t g" style="left:1329px;top:924px">Listinná podoba</span>
<svg class="a" style="left:1443px;top:929px" width="9" height="7"><path d="M1 1H8L4.5 6Z" fill="none" stroke="#666"/></svg>
<div class="a" style="left:1469px;top:924px;width:100px;overflow:hidden;white-space:nowrap;line-height:16px;color:#555">Označena jako neplatná</div>

<div class="row" style="top:952px"><svg class="dt" width="17" height="6"><circle cx="3" cy="3" r="2" fill="none" stroke="#1f75b5" stroke-width="1.2"/><circle cx="8.5" cy="3" r="2" fill="none" stroke="#1f75b5" stroke-width="1.2"/><circle cx="14" cy="3" r="2" fill="none" stroke="#1f75b5" stroke-width="1.2"/></svg><svg class="inf" width="16" height="16"><circle cx="8" cy="8" r="7" fill="none" stroke="#1f75b5" stroke-width="1.2"/><path d="M8 7V12" stroke="#1f75b5" stroke-width="1.3"/><circle cx="8" cy="4.6" r="0.9" fill="#1f75b5"/></svg><span class="t n">001</span><span class="t nm">Dodavatel - školení 2</span><span class="t i2">12345678</span><span class="t d2">11. 6. 2025 12:54</span><span class="t s2">Otevřena</span><svg class="m" style="left:899px" width="9" height="9"><path d="M1 1L8 8M8 1L1 8" stroke="#d9302c" stroke-width="2.2"/></svg><svg class="m" style="left:1040px" width="9" height="9"><path d="M1 1L8 8M8 1L1 8" stroke="#d9302c" stroke-width="2.2"/></svg><svg class="m" style="left:1199px" width="9" height="9"><path d="M1 1L8 8M8 1L1 8" stroke="#d9302c" stroke-width="2.2"/></svg></div>
<div class="row" style="top:977px"><svg class="dt" width="17" height="6"><circle cx="3" cy="3" r="2" fill="none" stroke="#1f75b5" stroke-width="1.2"/><circle cx="8.5" cy="3" r="2" fill="none" stroke="#1f75b5" stroke-width="1.2"/><circle cx="14" cy="3" r="2" fill="none" stroke="#1f75b5" stroke-width="1.2"/></svg><svg class="inf" width="16" height="16"><circle cx="8" cy="8" r="7" fill="none" stroke="#1f75b5" stroke-width="1.2"/><path d="M8 7V12" stroke="#1f75b5" stroke-width="1.3"/><circle cx="8" cy="4.6" r="0.9" fill="#1f75b5"/></svg><span class="t n">002</span><span class="t nm">Dodavatel - školení 3</span><span class="t i2">12345678</span><span class="t d2">11. 6. 2025 12:55</span><span class="t s2">Otevřena</span><svg class="m" style="left:899px" width="9" height="9"><path d="M1 1L8 8M8 1L1 8" stroke="#d9302c" stroke-width="2.2"/></svg><svg class="m" style="left:1040px" width="9" height="9"><path d="M1 1L8 8M8 1L1 8" stroke="#d9302c" stroke-width="2.2"/></svg><svg class="m" style="left:1199px" width="9" height="9"><path d="M1 1L8 8M8 1L1 8" stroke="#d9302c" stroke-width="2.2"/></svg></div>
<div class="row" style="top:1002px"><svg class="dt" width="17" height="6"><circle cx="3" cy="3" r="2" fill="none" stroke="#1f75b5" stroke-width="1.2"/><circle cx="8.5" cy="3" r="2" fill="none" stroke="#1f75b5" stroke-width="1.2"/><circle cx="14" cy="3" r="2" fill="none" stroke="#1f75b5" stroke-width="1.2"/></svg><svg class="inf" width="16" height="16"><circle cx="8" cy="8" r="7" fill="none" stroke="#1f75b5" stroke-width="1.2"/><path d="M8 7V12" stroke="#1f75b5" stroke-width="1.3"/><circle cx="8" cy="4.6" r="0.9" fill="#1f75b5"/></svg><span class="t n">003</span><span class="t nm">Dodavatel - školení 5</span><span class="t i2">12345678</span><span class="t d2">11. 6. 2025 12:56</span><span class="t s2">Otevřena</span><svg class="m" style="left:899px" width="9" height="9"><path d="M1 1L8 8M8 1L1 8" stroke="#d9302c" stroke-width="2.2"/></svg><svg class="m" style="left:1040px" width="9" height="9"><path d="M1 1L8 8M8 1L1 8" stroke="#d9302c" stroke-width="2.2"/></svg><svg class="m" style="left:1199px" width="9" height="9"><path d="M1 1L8 8M8 1L1 8" stroke="#d9302c" stroke-width="2.2"/></svg></div>
<div class="row" style="top:1027px"><svg class="dt" width="17" height="6"><circle cx="3" cy="3" r="2" fill="none" stroke="#1f75b5" stroke-width="1.2"/><circle cx="8.5" cy="3" r="2" fill="none" stroke="#1f75b5" stroke-width="1.2"/><circle cx="14" cy="3" r="2" fill="none" stroke="#1f75b5" stroke-width="1.2"/></svg><svg class="inf" width="16" height="16"><circle cx="8" cy="8" r="7" fill="none" stroke="#1f75b5" stroke-width="1.2"/><path d="M8 7V12" stroke="#1f75b5" stroke-width="1.3"/><circle cx="8" cy="4.6" r="0.9" fill="#1f75b5"/></svg><span class="t n">004</span><span class="t nm">Dodavatel - školení 6</span><span class="t i2">45359326</span><span class="t d2">11. 6. 2025 12:57</span><span class="t s2">Otevřena</span><svg class="m" style="left:899px" width="9" height="9"><path d="M1 1L8 8M8 1L1 8" stroke="#d9302c" stroke-width="2.2"/></svg><svg class="m" style="left:1040px" width="9" height="9"><path d="M1 1L8 8M8 1L1 8" stroke="#d9302c" stroke-width="2.2"/></svg><svg class="m" style="left:1199px" width="9" height="9"><path d="M1 1L8 8M8 1L1 8" stroke="#d9302c" stroke-width="2.2"/></svg></div>
<div class="row" style="top:1052px"><svg class="dt" width="17" height="6"><circle cx="3" cy="3" r="2" fill="none" stroke="#1f75b5" stroke-width="1.2"/><circle cx="8.5" cy="3" r="2" fill="none" stroke="#1f75b5" stroke-width="1.2"/><circle cx="14" cy="3" r="2" fill="none" stroke="#1f75b5" stroke-width="1.2"/></svg><svg class="inf" width="16" height="16"><circle cx="8" cy="8" r="7" fill="none" stroke="#1f75b5" stroke-width="1.2"/><path d="M8 7V12" stroke="#1f75b5" stroke-width="1.3"/><circle cx="8" cy="4.6" r="0.9" fill="#1f75b5"/></svg><span class="t n">005</span><span class="t nm">Dodavatel - školení 7</span><span class="t i2">12345678</span><span class="t d2">11. 6. 2025 12:58</span><span class="t s2">Otevřena</span><svg class="m" style="left:899px" width="9" height="9"><path d="M1 1L8 8M8 1L1 8" stroke="#d9302c" stroke-width="2.2"/></svg><svg class="m" style="left:1040px" width="9" height="9"><path d="M1 1L8 8M8 1L1 8" stroke="#d9302c" stroke-width="2.2"/></svg><svg class="m" style="left:1198px" width="11" height="9"><path d="M1 5L4 8L10 1" fill="none" stroke="#4caf50" stroke-width="1.8"/></svg></div>
<div class="row" style="top:1077px"><svg class="dt" width="17" height="6"><circle cx="3" cy="3" r="2" fill="none" stroke="#1f75b5" stroke-width="1.2"/><circle cx="8.5" cy="3" r="2" fill="none" stroke="#1f75b5" stroke-width="1.2"/><circle cx="14" cy="3" r="2" fill="none" stroke="#1f75b5" stroke-width="1.2"/></svg><svg class="inf" width="16" height="16"><circle cx="8" cy="8" r="7" fill="none" stroke="#1f75b5" stroke-width="1.2"/><path d="M8 7V12" stroke="#1f75b5" stroke-width="1.3"/><circle cx="8" cy="4.6" r="0.9" fill="#1f75b5"/></svg><span class="t n">006</span><span class="t nm">Dodavatel - školení 8</span><span class="t i2">12345678</span><span class="t d2">11. 6. 2025 12:58</span><span class="t s2">Otevření zaevidováno</span><svg class="m" style="left:899px" width="9" height="9"><path d="M1 1L8 8M8 1L1 8" stroke="#d9302c" stroke-width="2.2"/></svg><svg class="m" style="left:1039px" width="11" height="9"><path d="M1 5L4 8L10 1" fill="none" stroke="#4caf50" stroke-width="1.8"/></svg><svg class="m" style="left:1199px" width="9" height="9"><path d="M1 1L8 8M8 1L1 8" stroke="#d9302c" stroke-width="2.2"/></svg></div>
<div class="row" style="top:1102px;border-bottom:none"><svg class="dt" width="17" height="6"><circle cx="3" cy="3" r="2" fill="none" stroke="#1f75b5" stroke-width="1.2"/><circle cx="8.5" cy="3" r="2" fill="none" stroke="#1f75b5" stroke-width="1.2"/><circle cx="14" cy="3" r="2" fill="none" stroke="#1f75b5" stroke-width="1.2"/></svg><svg class="inf" width="16" height="16"><circle cx="8" cy="8" r="7" fill="none" stroke="#1f75b5" stroke-width="1.2"/><path d="M8 7V12" stroke="#1f75b5" stroke-width="1.3"/><circle cx="8" cy="4.6" r="0.9" fill="#1f75b5"/></svg><span class="t n">007</span><span class="t nm">Dodavatel - školení 8</span><span class="t i2">12345678</span><span class="t d2">11. 6. 2025 12:58</span><span class="t s2">Otevřena</span><svg class="m" style="left:899px" width="9" height="9"><path d="M1 1L8 8M8 1L1 8" stroke="#d9302c" stroke-width="2.2"/></svg><svg class="m" style="left:1040px" width="9" height="9"><path d="M1 1L8 8M8 1L1 8" stroke="#d9302c" stroke-width="2.2"/></svg><svg class="m" style="left:1199px" width="9" height="9"><path d="M1 1L8 8M8 1L1 8" stroke="#d9302c" stroke-width="2.2"/></svg></div>
<div class="a" style="left:1527px;top:914px;width:42px;height:213px;background:linear-gradient(to right,rgba(255,255,255,0),rgba(205,205,205,0.45))"></div>
</div></div>

</body></html>
